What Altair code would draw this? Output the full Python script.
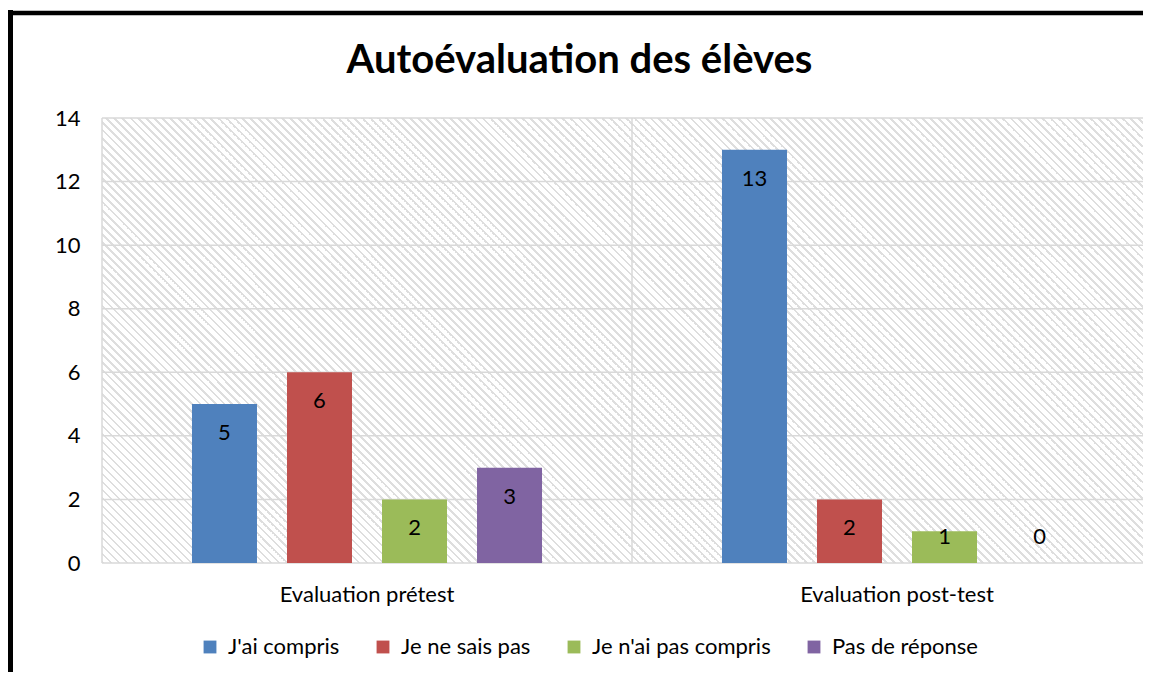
import math
import altair as alt
import pandas as pd

# ---- data ----
groups = ["Evaluation prétest", "Evaluation post-test"]
series = ["J'ai compris", "Je ne sais pas", "Je n'ai pas compris", "Pas de réponse"]
pretest = [5, 6, 2, 3]
posttest = [13, 2, 1, 0]
colors = ["#4F81BD", "#C0504D", "#9BBB59", "#8064A2"]
y_ticks = [0, 2, 4, 6, 8, 10, 12, 14]
title_text = "Autoévaluation des élèves"

rows = []
for g, vals in zip(groups, [pretest, posttest]):
    for s, v in zip(series, vals):
        rows.append({"groupe": g, "serie": s, "valeur": v})
df = pd.DataFrame(rows)
grid_df = pd.DataFrame({"v": y_ticks})
sep_df = pd.DataFrame({"groupe": groups})
one = alt.Data(values=[{}])

W, H = 1041, 445
FONT = "Lato"
FS = 22
GRID = "#d9d9d9"

# ---- diagonal hatch as a striped linear gradient ----
k = (W + H) / (W ** 2 + H ** 2)
n = (W + H) / 8.0
stops = []
for i in range(int(math.ceil(n))):
    a = min(i / n, 1.0)
    b = min((i + 0.32) / n, 1.0)
    c = min((i + 1) / n, 1.0)
    stops += [
        {"offset": a, "color": "#dedede"},
        {"offset": b, "color": "#dedede"},
        {"offset": b, "color": "#ffffff"},
        {"offset": c, "color": "#ffffff"},
    ]
hatch = {"gradient": "linear", "x1": 0, "y1": 1, "x2": k * W, "y2": 1 - k * H, "stops": stops}

x_enc = alt.X(
    "groupe:N", sort=groups,
    scale=alt.Scale(range=[0, 1060], paddingInner=0, paddingOuter=0),
    axis=alt.Axis(title=None, labelAngle=0, labelAlign="center", grid=False, ticks=False,
                  domain=False, labelFont=FONT, labelFontSize=FS, labelColor="#000000",
                  labelPadding=31, labelLimit=0),
)
y_scale = alt.Scale(domain=[0, 14], nice=False, zero=True)
xoff = alt.XOffset("serie:N", sort=series,
                   scale=alt.Scale(paddingInner=0.3158, paddingOuter=0.947))

background = alt.Chart(one).mark_rect(fill=hatch, strokeWidth=0).encode(
    x=alt.value(0), x2=alt.value(W), y=alt.value(0), y2=alt.value(H)
)

hgrid = alt.Chart(grid_df).mark_rule(color=GRID, strokeWidth=1.5).encode(
    y=alt.Y("v:Q", scale=y_scale,
            axis=alt.Axis(values=y_ticks, title=None, grid=False, ticks=False, domain=False,
                          labelFont=FONT, labelFontSize=FS, labelColor="#000000",
                          labelPadding=22)),
    x=alt.value(0), x2=alt.value(W),
)

vsep = alt.Chart(sep_df).mark_rule(color=GRID, strokeWidth=1.5).encode(
    x=alt.X("groupe:N", sort=groups, bandPosition=0),
    y=alt.value(0), y2=alt.value(H),
)

bars = alt.Chart(df).mark_bar().encode(
    x=x_enc,
    xOffset=xoff,
    y=alt.Y("valeur:Q", scale=y_scale),
    color=alt.Color(
        "serie:N", sort=series,
        scale=alt.Scale(domain=series, range=colors),
        legend=alt.Legend(
            title=None, orient="none", legendX=97, legendY=518, direction="horizontal",
            columns=4, columnPadding=32, symbolType="square", symbolSize=165,
            symbolStrokeWidth=0, labelFont=FONT, labelFontSize=FS, labelColor="#000000",
            labelOffset=7, padding=0, labelLimit=0,
        ),
    ),
)

labels = alt.Chart(df).transform_calculate(
    pos="max(datum.valeur - 0.91, 0.82)"
).mark_text(font=FONT, fontSize=FS, color="#000000", baseline="middle").encode(
    x=alt.X("groupe:N", sort=groups),
    xOffset=alt.XOffset("serie:N", sort=series),
    y=alt.Y("pos:Q", scale=y_scale),
    text=alt.Text("valeur:Q"),
)

title = alt.Chart(one).mark_text(
    text=title_text, font=FONT, fontSize=40, fontWeight="bold", color="#000000",
    baseline="alphabetic", align="center",
).encode(x=alt.value(477.5), y=alt.value(-45))

frame_top = alt.Chart(one).mark_rule(color="#000000", strokeWidth=4.5).encode(
    x=alt.value(-96), x2=alt.value(1100), y=alt.value(-105)
)
frame_left = alt.Chart(one).mark_rule(color="#000000", strokeWidth=5).encode(
    x=alt.value(-91.5), y=alt.value(-108), y2=alt.value(600)
)

chart = alt.layer(
    background, hgrid, vsep, bars, labels, title, frame_top, frame_left
).properties(
    width=W, height=H,
    autosize=alt.AutoSizeParams(type="none"),
    padding={"left": 94, "top": 110, "right": 0, "bottom": 109},
    background="#ffffff",
).configure_view(stroke=None)

chart.save("out.html", embed_options={"renderer": "svg", "actions": False})
